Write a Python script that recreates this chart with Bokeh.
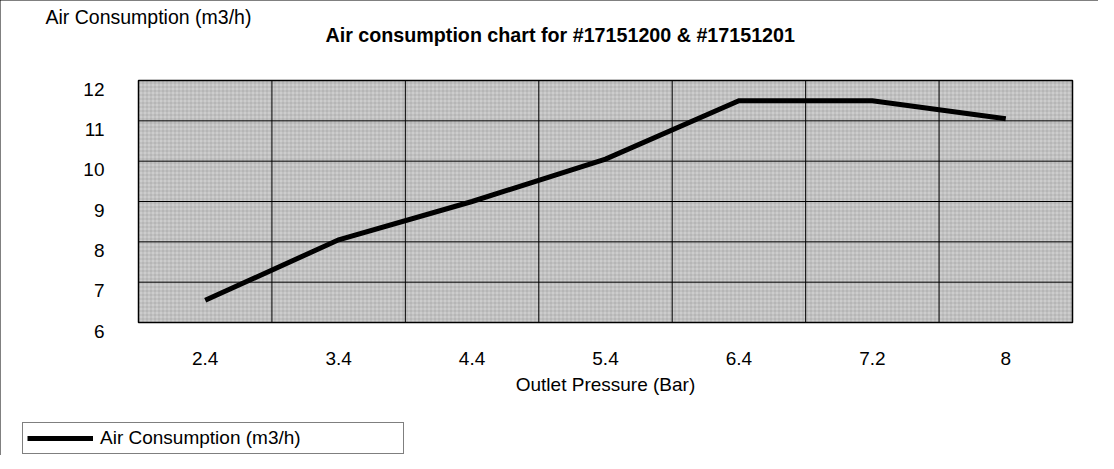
import numpy as np
from bokeh.plotting import figure
from bokeh.models import (Legend, LegendItem, FixedTicker, Label, Range1d, LinearAxis,
                          InlineStyleSheet)
from bokeh.embed import file_html
from bokeh.resources import INLINE

# ---- data ----
categories = ["2.4", "3.4", "4.4", "5.4", "6.4", "7.2", "8"]
consumption = [6.55, 8.05, 9.0, 10.05, 11.5, 11.5, 11.05]
y_ticks = [6, 7, 8, 9, 10, 11, 12]
chart_title = "Air consumption chart for #17151200 & #17151201"
y_title = "Air Consumption (m3/h)"
x_title = "Outlet Pressure (Bar)"
series_name = "Air Consumption (m3/h)"

FONT = "Liberation Sans"
FS = "19px"

# ---- layout (pixels) ----
W, H = 1098, 455
AREA_L, AREA_R, AREA_T, AREA_B = 138, 1072, 80, 322   # plot area inside the canvas

n = len(categories)
y0, y1 = y_ticks[0], y_ticks[-1]
cat_px = (AREA_R - AREA_L) / n
unit_px = (AREA_B - AREA_T) / (y1 - y0)
x_start = -AREA_L / cat_px
x_end = n + (W - AREA_R) / cat_px
y_start = y0 - (H - AREA_B) / unit_px
y_end = y1 + AREA_T / unit_px

centers = list(np.arange(n) + 0.5)

p = figure(width=W, height=H,
           x_range=Range1d(x_start, x_end), y_range=Range1d(y_start, y_end),
           x_axis_location=None, y_axis_location=None,
           output_backend="svg", toolbar_location=None, min_border=0)
p.outline_line_color = None
p.background_fill_color = "white"
p.border_fill_color = "white"
p.grid.visible = False
p.stylesheets = [InlineStyleSheet(css=":host { outline: 1px solid #000; outline-offset: -1px; }")]

# plot area with a fine texture
p.quad(left=0, right=n, bottom=y0, top=y1, fill_color="#cdcdcd", line_color=None,
       hatch_pattern="cross", hatch_color="#8a8a8a", hatch_scale=4,
       hatch_weight=0.6, hatch_alpha=0.6)

# grid lines: horizontal at each y tick, vertical between categories
p.segment(x0=0, x1=n, y0=y_ticks, y1=y_ticks, line_color="black", line_width=1)
bounds = list(range(1, n))
p.segment(x0=bounds, x1=bounds, y0=y0, y1=y1, line_color="black", line_width=1)

# series
line_r = p.line(x=centers, y=consumption, line_color="black", line_width=5,
                line_join="miter")

# plot area border
p.quad(left=0, right=n, bottom=y0, top=y1, fill_color=None,
       line_color="black", line_width=1.5)

# x axis, fixed at the bottom of the plot area
xa = LinearAxis(fixed_location=y0, bounds=(0, n), ticker=FixedTicker(ticks=centers),
                major_label_overrides={c: lab for c, lab in zip(centers, categories)})
xa.axis_line_color = None
xa.major_tick_line_color = None
xa.minor_tick_line_color = None
xa.major_tick_out = 0
xa.major_tick_in = 0
xa.major_label_text_font = FONT
xa.major_label_text_font_size = FS
xa.major_label_text_color = "black"
xa.major_label_standoff = 29
xa.axis_label = x_title
xa.axis_label_text_font = FONT
xa.axis_label_text_font_size = FS
xa.axis_label_text_font_style = "normal"
xa.axis_label_text_color = "black"
xa.axis_label_standoff = 6
p.add_layout(xa, "below")

# y axis, fixed at the left of the plot area; labels sit a little below their lines
shift = 8.5 / unit_px
p.extra_y_ranges = {"lbl": Range1d(y_start + shift, y_end + shift)}
ya = LinearAxis(y_range_name="lbl", fixed_location=0, ticker=FixedTicker(ticks=y_ticks))
ya.axis_line_color = None
ya.major_tick_line_color = None
ya.minor_tick_line_color = None
ya.major_tick_out = 0
ya.major_tick_in = 0
ya.major_label_text_font = FONT
ya.major_label_text_font_size = FS
ya.major_label_text_color = "black"
ya.major_label_standoff = 34
p.add_layout(ya, "left")

# titles
p.add_layout(Label(x=45, y=H - 16, x_units="screen", y_units="screen",
                   text=y_title, text_font=FONT, text_font_size="19.5px",
                   text_baseline="middle", text_align="left", text_color="black"))
p.add_layout(Label(x=325, y=H - 34, x_units="screen", y_units="screen",
                   text=chart_title, text_font=FONT, text_font_size="19.7px",
                   text_font_style="bold", text_baseline="middle",
                   text_align="left", text_color="black"))

# legend
legend = Legend(items=[LegendItem(label=series_name, renderers=[line_r])],
                location=(22, 1), padding=4, margin=0, spacing=0,
                glyph_width=66, glyph_height=14, label_height=14,
                label_width=299, label_standoff=7,
                border_line_color="black", border_line_width=1,
                background_fill_color="white", background_fill_alpha=1,
                label_text_font=FONT, label_text_font_size=FS,
                label_text_color="black")
p.add_layout(legend)

open("out.html", "w").write(file_html(p, INLINE))
